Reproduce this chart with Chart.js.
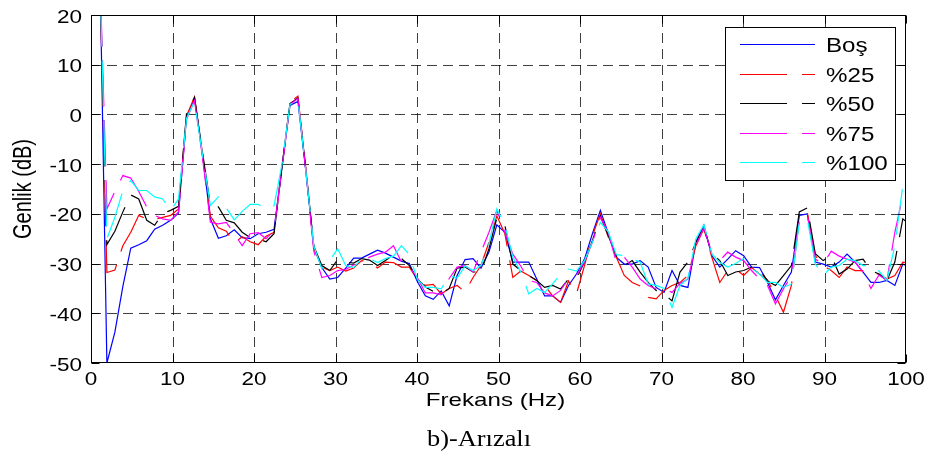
<!DOCTYPE html>
<html>
<head>
<meta charset="utf-8">
<script src="https://cdn.jsdelivr.net/npm/chart.js@4.4.1/dist/chart.umd.min.js"></script>
<style>
  html, body { margin: 0; padding: 0; background: #fff; }
  canvas { display: block; }
</style>
</head>
<body>
<canvas id="spectrum" width="928" height="453"></canvas>
<script>
// frequency bins (Hz)
const freqs = [
  0.98, 1.95, 2.93, 3.91, 4.88, 5.86, 6.84, 7.81, 8.79, 9.77,
  10.74, 11.72, 12.70, 13.67, 14.65, 15.63, 16.60, 17.58, 18.55, 19.53,
  20.51, 21.48, 22.46, 23.44, 24.41, 25.39, 26.37, 27.34, 28.32, 29.30,
  30.27, 31.25, 32.23, 33.20, 34.18, 35.16, 36.13, 37.11, 38.09, 39.06,
  40.04, 41.02, 41.99, 42.97, 43.95, 44.92, 45.90, 46.88, 47.85, 48.83,
  49.80, 50.78, 51.76, 52.73, 53.71, 54.69, 55.66, 56.64, 57.62, 58.59,
  59.57, 60.55, 61.52, 62.50, 63.48, 64.45, 65.43, 66.41, 67.38, 68.36,
  69.34, 70.31, 71.29, 72.27, 73.24, 74.22, 75.20, 76.17, 77.15, 78.13,
  79.10, 80.08, 81.05, 82.03, 83.01, 83.98, 84.96, 85.94, 86.91, 87.89,
  88.87, 89.84, 90.82, 91.80, 92.77, 93.75, 94.73, 95.70, 96.68, 97.66,
  98.63, 99.61, 100.59
];

// amplitude (dB) per load level
const bos = [
  40, -50, -43.8, -34.6, -26.9, -26.2, -25.4, -23.1, -22.3, -21.3,
  -19.8, -0.5, 3.2, -8, -21, -24.9, -24.4, -23.2, -24.8, -25,
  -24, -23.7, -23.1, -10.5, 1.8, 2.6, -11.5, -26.8, -30.8, -33.1,
  -32.8, -30.9, -28.9, -28.9, -28.1, -27.3, -27.9, -28.7, -29.5, -30,
  -33.6, -36.5, -37.2, -35.5, -38.5, -32.4, -29.2, -29, -30.9, -27.7,
  -22.2, -23.7, -29.7, -29.7, -29.7, -33.1, -36.5, -36.5, -37.8, -34.4,
  -32.1, -29.1, -24, -19.3, -24, -28.7, -30.1, -30.1, -29.4, -30.7,
  -34.8, -35.8, -31.4, -34.4, -34.8, -25.7, -22.3, -28.4, -30.7, -29.1,
  -27.4, -28.4, -30.7, -30.8, -33.8, -37.3, -34.4, -31.7, -20.3, -20,
  -29.7, -30.1, -30.7, -29.7, -28.1, -29.7, -31.7, -33.8, -33.8, -33.4,
  -34.4, -30.1, -30.7
];
const load25 = [
  35, -31.8, -31.3, -26.4, -23.7, -20.3, -21.1, -21.1, -20.7, -20.3,
  -19, -0.3, 3.5, -7.8, -20.5, -22.8, -23.5, -25.9, -24.6, -25.6,
  -26.2, -24.5, -23.7, -10.5, 2.4, 3.7, -11, -27, -30.7, -31.4,
  -30.7, -31.5, -30.9, -29.4, -29.7, -30.9, -29.7, -29.8, -30.7, -30.7,
  -33.2, -34.4, -34.2, -36.1, -35, -34.4, -35.7, -32.8, -30.4, -25.7,
  -20.4, -24, -32.8, -31.5, -32.4, -33.4, -34.4, -36.5, -37.8, -33.5,
  -36.1, -30.4, -24.4, -20, -24.7, -28.7, -32.4, -33.8, -34.5, -36.8,
  -37.1, -35.4, -34.4, -33.8, -32.4, -26.4, -23, -28.7, -33.8, -31.4,
  -31.1, -32.4, -30.8, -32.1, -33.3, -36.5, -39.8, -34.4, -21, -19.7,
  -28.4, -30.4, -31.4, -32.8, -30.7, -31.4, -31.4, -32, -32.1, -33.1,
  -32.4, -29.7, -30
];
const load50 = [
  35, -26.2, -23.5, -19.6, -16.2, -17, -21.3, -22.3, -19.9, -19.3,
  -18.5, 0.2, 3.4, -7.5, -18.3, -18.6, -21.3, -21.8, -23.7, -24.8,
  -25, -25.6, -24, -10.5, 2.2, 3.3, -11.2, -26.5, -30.4, -31.4,
  -29.2, -29.7, -29.9, -29, -29.3, -30.4, -29.4, -28.2, -29, -30.4,
  -33.1, -34.7, -35.6, -36.1, -35, -30.9, -30.7, -31.7, -31.7, -27,
  -20.8, -22.3, -30.1, -31.4, -32.4, -33.4, -34.8, -34.4, -35.1, -33.1,
  -33, -29.7, -25.4, -20.5, -24.4, -28.4, -30.4, -29.4, -31.7, -33.8,
  -35.4, -36.1, -37.5, -31.7, -29.7, -25.7, -22.7, -28, -29.4, -32.4,
  -31.7, -31.4, -30.7, -31.1, -33.5, -34.4, -32.4, -30.4, -19.6, -18.8,
  -28, -29.4, -28.4, -32.1, -31.1, -29.4, -29.1, -31.4, -32.1, -33.4,
  -29.7, -21, -22.3
];
const load75 = [
  35, -19, -15.5, -12.3, -12.8, -15.5, -18.6, -20.3, -21, -21.3,
  -19.6, -1, 2.8, -8.5, -21.7, -22, -21.7, -24, -26.4, -24,
  -23.8, -25, -23.3, -10.8, 2, 3.2, -11.5, -27.5, -32.8, -32.4,
  -31.4, -31.2, -30.3, -29.7, -28.7, -28.1, -27.7, -26.4, -29.7, -30.7,
  -32.8, -35.9, -35.9, -36.3, -33, -30.7, -30.4, -31.7, -27.7, -23.7,
  -19.3, -23.7, -28.1, -30.5, -33.4, -33.8, -35.9, -36.5, -35.4, -32.9,
  -32.4, -29.7, -25.7, -20.7, -23.8, -29.7, -28.7, -30.7, -33.1, -34.4,
  -35.1, -35, -35.8, -34, -33.1, -26.4, -22.7, -28, -29.4, -27.7,
  -28.7, -29.4, -31.4, -33.1, -34.4, -38.1, -35.1, -32.4, -21.3, -20.3,
  -29.1, -30.1, -27.5, -28.5, -29.1, -29.7, -31.7, -35, -32.3, -33.4,
  -23.7, -16.3, -17.3
];
const load100 = [
  35, -25, -20.7, -15.3, -13.3, -15.3, -15.3, -16.6, -17, -19.3,
  -17, -0.8, 2.6, -8, -18.3, -16.6, -18.8, -21.2, -19.5, -18.1,
  -18.1, -19, -18.4, -10, 2, 3, -11.5, -26.5, -31, -29.4,
  -27, -30.4, -30.8, -29, -29, -29.8, -29, -28.5, -26.4, -28.2,
  -33.2, -34.8, -34.8, -35.1, -32.4, -32.9, -30.5, -31.4, -30.4, -26,
  -19, -22.3, -28.7, -31.7, -36.1, -35, -35.8, -34.1, -32.1, -31.1,
  -31.5, -29.4, -25.7, -21.7, -23.6, -28.2, -28.4, -29, -29.7, -34.1,
  -34.4, -35, -38.8, -34.4, -33, -25, -22.2, -28, -29.8, -30.7,
  -30, -29, -31, -32.1, -33.8, -33.8, -34.8, -34.1, -21.7, -21,
  -30.1, -32.4, -30.7, -30.4, -29.1, -29.4, -30.4, -30.4, -31.5, -33.4,
  -26.4, -14.3, -14.3
];

const seriesNames = ['Boş', '%25', '%50', '%75', '%100'];
const seriesValues = [bos, load25, load50, load75, load100];
const seriesColors = ['#0000ff', '#ff0000', '#000000', '#ff00ff', '#00ffff'];

const xTicks = [0, 10, 20, 30, 40, 50, 60, 70, 80, 90, 100];
const yTicks = [20, 10, 0, -10, -20, -30, -40, -50];

const LINE_DASH = [46, 14];
const SANS = '"Liberation Sans", Arial, sans-serif';
const SERIF = '"Liberation Serif", "Times New Roman", serif';

// text drawn with a horizontal stretch factor
function wideText(ctx, text, x, y, sx, align) {
  ctx.save();
  ctx.translate(x, y);
  ctx.scale(sx, 1);
  ctx.textAlign = align;
  ctx.textBaseline = 'alphabetic';
  ctx.fillText(text, 0, 0);
  ctx.restore();
}

// MATLAB-like axes: dashed grid, boxed frame, inward ticks, legend, caption
const matlabAxes = {
  id: 'matlabAxes',
  beforeDraw(chart) {
    const ctx = chart.ctx;
    ctx.save();
    ctx.fillStyle = '#fff';
    ctx.fillRect(0, 0, chart.width, chart.height);
    ctx.restore();
  },
  beforeDatasetsDraw(chart) {
    const { ctx, chartArea: a, scales: { x, y } } = chart;
    ctx.save();
    ctx.strokeStyle = 'rgba(0,0,0,0.75)';
    ctx.lineWidth = 1;
    ctx.setLineDash([10, 6]);
    xTicks.slice(1, -1).forEach(v => {
      const px = Math.round(x.getPixelForValue(v)) + 0.5;
      ctx.beginPath();
      ctx.moveTo(px, a.bottom);
      ctx.lineTo(px, a.top);
      ctx.stroke();
    });
    yTicks.slice(1, -1).forEach(v => {
      const py = Math.round(y.getPixelForValue(v)) + 0.5;
      ctx.beginPath();
      ctx.moveTo(a.left, py);
      ctx.lineTo(a.right, py);
      ctx.stroke();
    });
    ctx.restore();
  },
  afterDatasetsDraw(chart) {
    const { ctx, chartArea: a, scales: { x, y } } = chart;
    const L = a.left + 0.5, R = a.right - 0.5, T = a.top + 0.5, B = a.bottom - 0.5;
    const tick = 8;
    ctx.save();
    ctx.strokeStyle = '#000';
    ctx.lineWidth = 1;
    ctx.setLineDash([]);
    ctx.strokeRect(L, T, R - L, B - T);
    ctx.beginPath();
    xTicks.forEach(v => {
      const px = Math.round(x.getPixelForValue(v)) + 0.5;
      ctx.moveTo(px, B); ctx.lineTo(px, B - tick);
      ctx.moveTo(px, T); ctx.lineTo(px, T + tick);
    });
    yTicks.forEach(v => {
      const py = Math.round(y.getPixelForValue(v)) + 0.5;
      ctx.moveTo(L, py); ctx.lineTo(L + tick, py);
      ctx.moveTo(R, py); ctx.lineTo(R - tick, py);
    });
    ctx.stroke();

    // tick labels
    ctx.fillStyle = '#000';
    ctx.font = '18px ' + SANS;
    xTicks.forEach(v => wideText(ctx, String(v), x.getPixelForValue(v), a.bottom + 22, 1.25, 'center'));
    yTicks.forEach(v => wideText(ctx, String(v), a.left - 9, y.getPixelForValue(v) + 7.5, 1.25, 'right'));

    // axis titles
    ctx.font = '19px ' + SANS;
    wideText(ctx, 'Frekans (Hz)', (a.left + a.right) / 2 - 3, a.bottom + 43, 1.27, 'center');

    ctx.font = '20px ' + SANS;
    ctx.save();
    ctx.translate(30.5, (a.top + a.bottom) / 2);
    ctx.rotate(-Math.PI / 2);
    ctx.scale(1, 1.25);
    ctx.textAlign = 'center';
    ctx.textBaseline = 'alphabetic';
    ctx.fillText('Genlik (dB)', 0, 0);
    ctx.restore();
    ctx.restore();
  },
  afterDraw(chart) {
    const ctx = chart.ctx;
    ctx.save();
    // legend
    ctx.fillStyle = '#fff';
    ctx.fillRect(725, 27, 171, 154);
    ctx.strokeStyle = '#000';
    ctx.lineWidth = 1;
    ctx.strokeRect(725.5, 27.5, 170, 153);
    ctx.font = '21px ' + SANS;
    seriesNames.forEach((name, i) => {
      const ly = Math.round(44 + i * 29.5) + 0.5;
      ctx.strokeStyle = seriesColors[i];
      ctx.setLineDash(i ? [47, 15] : []);
      ctx.beginPath();
      ctx.moveTo(740, ly);
      ctx.lineTo(815, ly);
      ctx.stroke();
      ctx.fillStyle = '#000';
      wideText(ctx, name, 826, ly + 7.5, 1.15, 'left');
    });
    ctx.setLineDash([]);
    // caption
    ctx.fillStyle = '#000';
    ctx.font = '24px ' + SERIF;
    wideText(ctx, 'b)-Arızalı', 479, 446, 1.1, 'center');
    ctx.restore();
  }
};

new Chart(document.getElementById('spectrum'), {
  type: 'line',
  data: {
    datasets: seriesValues.map((vals, i) => ({
      label: seriesNames[i],
      data: vals.map((v, k) => ({ x: freqs[k], y: v })),
      borderColor: seriesColors[i],
      borderWidth: 1.2,
      borderDash: i ? LINE_DASH : [],
      pointRadius: 0,
      fill: false,
      order: seriesValues.length - 1 - i
    }))
  },
  options: {
    responsive: false,
    animation: false,
    devicePixelRatio: 1,
    layout: { padding: { left: 91, right: 22, top: 15, bottom: 90 } },
    scales: {
      x: { type: 'linear', min: 0, max: 100, display: false },
      y: { type: 'linear', min: -50, max: 20, display: false }
    },
    plugins: {
      legend: { display: false },
      tooltip: { enabled: false }
    }
  },
  plugins: [matlabAxes]
});
</script>
</body>
</html>
